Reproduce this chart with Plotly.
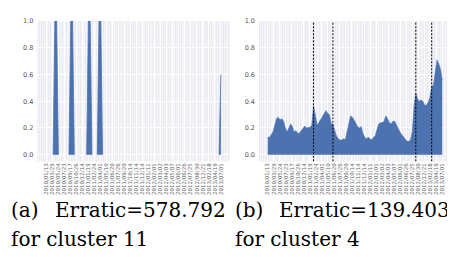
import plotly.graph_objects as go
import numpy as np

# ---- data ----
tick_labels = ["2010/01/13", "2010/03/29", "2010/05/24", "2010/07/23", "2010/09/17",
               "2010/10/26", "2010/12/14", "2011/01/19", "2011/02/24", "2011/04/01",
               "2011/05/10", "2011/06/20", "2011/07/26", "2011/09/20", "2011/10/14",
               "2011/11/14", "2011/12/14", "2012/01/11", "2012/02/01", "2012/03/02",
               "2012/04/03", "2012/05/07", "2012/06/01", "2012/06/26", "2012/07/25",
               "2012/08/30", "2012/12/21", "2013/02/18", "2013/04/19", "2013/07/01"]

N_POINTS = 100

# cluster 11: sparse spikes (None = no data)
cluster11 = [None] * N_POINTS
for i, v in [(4, 0), (5, 1), (6, 1), (7, 0),
             (13, 0), (14, 1), (15, 1), (16, 0),
             (23, 0), (24, 1), (25, 1), (26, 0),
             (29, 0), (30, 1), (31, 1), (32, 0),
             (98, 0), (99, 0.6)]:
    cluster11[i] = v

cluster4 = [0.13, 0.13, 0.15, 0.17, 0.22, 0.27, 0.28, 0.26, 0.27, 0.25,
            0.20, 0.17, 0.20, 0.23, 0.21, 0.17, 0.18, 0.16, 0.16, 0.18,
            0.20, 0.215, 0.20, 0.20, 0.205, 0.22, 0.365, 0.30, 0.22, 0.24,
            0.26, 0.28, 0.31, 0.33, 0.31, 0.30, 0.23, 0.23, 0.18, 0.14,
            0.12, 0.11, 0.11, 0.12, 0.11, 0.16, 0.23, 0.29, 0.28, 0.26,
            0.23, 0.21, 0.20, 0.21, 0.16, 0.13, 0.12, 0.13, 0.12, 0.11,
            0.13, 0.14, 0.19, 0.23, 0.24, 0.24, 0.25, 0.29, 0.27, 0.24,
            0.23, 0.25, 0.25, 0.22, 0.20, 0.17, 0.15, 0.13, 0.11, 0.10,
            0.10, 0.11, 0.17, 0.36, 0.46, 0.42, 0.40, 0.41, 0.40, 0.37,
            0.37, 0.39, 0.43, 0.51, 0.52, 0.62, 0.71, 0.68, 0.64, 0.56]

cluster4_events = [26, 37, 84, 93]

captions = [("(a)", "Erratic=578.792", "for cluster 11"),
            ("(b)", "Erratic=139.403", "for cluster 4")]

# ---- figure ----
BLUE = "rgb(76,114,176)"
BG = "#EAEAF2"
x = list(range(N_POINTS))
tickvals = list(np.linspace(0, N_POINTS - 1, len(tick_labels)))

fig = go.Figure()
fig.add_trace(go.Scatter(x=x, y=cluster11, mode="lines", fill="tozeroy",
                         connectgaps=False, line=dict(color=BLUE, width=0.8),
                         fillcolor=BLUE, xaxis="x", yaxis="y", showlegend=False))
fig.add_trace(go.Scatter(x=x, y=cluster4, mode="lines", fill="tozeroy",
                         line=dict(color=BLUE, width=0.6),
                         fillcolor=BLUE, xaxis="x2", yaxis="y2", showlegend=False))

xcommon = dict(range=[-4.95, 103.95], tickmode="array", tickvals=tickvals,
               ticktext=tick_labels, tickangle=-90, showgrid=True,
               gridcolor="white", gridwidth=0.8, zeroline=False, showline=False,
               ticks="", tickfont=dict(family="DejaVu Sans", size=5.5, color="#666"),
               minor=dict(dtick=1, tick0=0, showgrid=True,
                          gridcolor="rgba(255,255,255,0.45)", gridwidth=0.6))
ycommon = dict(range=[-0.049, 1.0], tickvals=[0, 0.2, 0.4, 0.6, 0.8, 1.0],
               ticktext=["0.0", "0.2", "0.4", "0.6", "0.8", "1.0"],
               showgrid=True, gridcolor="white", gridwidth=1, zeroline=False,
               showline=False, ticks="", ticklabelstandoff=3,
               tickfont=dict(family="DejaVu Sans", size=6.5, color="#555"),
               domain=[0.41, 0.964])

fig.update_layout(
    width=455, height=257, margin=dict(l=0, r=0, t=0, b=0),
    paper_bgcolor="white", plot_bgcolor=BG,
    xaxis=dict(domain=[0.0644, 0.487], anchor="y", **xcommon),
    yaxis=dict(anchor="x", **ycommon),
    xaxis2=dict(domain=[0.5516, 0.9736], anchor="y2", **xcommon),
    yaxis2=dict(anchor="x2", **ycommon),
)

for ev in cluster4_events:
    fig.add_shape(type="line", xref="x2", yref="y2 domain", x0=ev, x1=ev,
                  y0=0, y1=1, line=dict(color="black", width=1, dash="2px,1.5px"),
                  layer="above")

serif = dict(family="DejaVu Serif", size=20, color="black")
for (lab, erratic, clus), x0 in zip(captions, [2, 226]):
    fig.add_annotation(text=lab, xref="paper", yref="paper", x=x0 / 455,
                       y=1 - 201 / 257, xanchor="left", yanchor="middle",
                       showarrow=False, font=serif, borderpad=0)
    fig.add_annotation(text=erratic, xref="paper", yref="paper", x=(x0 + 44) / 455,
                       y=1 - 201 / 257, xanchor="left", yanchor="middle",
                       showarrow=False, font=serif, borderpad=0)
    fig.add_annotation(text=clus, xref="paper", yref="paper", x=x0 / 455,
                       y=1 - 231 / 257, xanchor="left", yanchor="middle",
                       showarrow=False, font=serif, borderpad=0)

fig.write_html("out.html")
